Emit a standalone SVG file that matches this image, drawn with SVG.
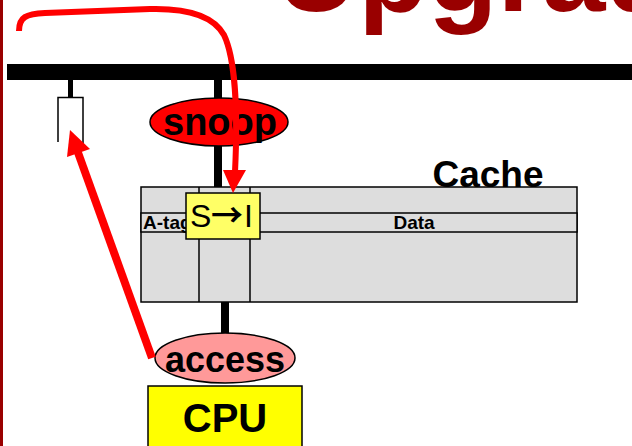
<svg xmlns="http://www.w3.org/2000/svg" width="632" height="446" viewBox="0 0 632 446">
  <style>
    .bold { font-family: "Liberation Sans", Arial, sans-serif; font-weight: bold; }
    .plain { font-family: "Liberation Sans", Arial, sans-serif; }
    .outline { stroke: #000; stroke-width: 1.5; }
    .thin { fill: none; stroke: #000; stroke-width: 1.5; }
    .stub { fill: #000; }
    .red-line { fill: none; stroke: #ff0000; stroke-linecap: butt; }
  </style>

  <rect width="632" height="446" fill="#ffffff"/>

  <!-- slide frame edge -->
  <rect x="0" y="0" width="3" height="446" fill="#990000"/>

  <!-- slide title (runs off the top/right) -->
  <g id="title">
    <text class="bold" x="276" y="11" font-size="114" fill="#990000">Upgrade</text>
  </g>

  <!-- shared bus -->
  <g id="bus">
    <rect x="7" y="64" width="625" height="16" fill="#000"/>
  </g>

  <!-- bus taps (black) -->
  <g id="taps">
    <rect class="stub" x="68" y="80" width="5" height="17"/>
    <rect class="stub" x="214" y="80" width="8" height="108"/>
    <rect class="stub" x="221" y="301" width="8" height="34"/>
  </g>

  <!-- other cache's open slot on the bus -->
  <g id="remote-slot">
    <path class="thin" d="M58,142 V97.5 H83 V148"/>
  </g>

  <!-- cache array -->
  <g id="cache">
    <rect class="outline" x="141" y="187" width="436" height="115" fill="#dddddd"/>
    <rect class="outline" x="141" y="213" width="436" height="19" fill="#dddddd"/>
    <line class="outline" x1="199" y1="187" x2="199" y2="302"/>
    <line class="outline" x1="250" y1="187" x2="250" y2="302"/>
    <text class="bold" x="143" y="228.5" font-size="19">A-tag</text>
    <text class="bold" x="414" y="228.5" font-size="19" text-anchor="middle">Data</text>
    <text class="bold" x="488" y="187" font-size="37" text-anchor="middle">Cache</text>
  </g>

  <!-- state transition on the tag -->
  <g id="state">
    <rect class="outline" x="186" y="193" width="74" height="46" fill="#ffff66"/>
    <text class="plain" y="227" font-size="32"><tspan x="190">S</tspan><tspan x="211" font-family="'Noto Sans CJK JP', 'DejaVu Sans', sans-serif" font-weight="bold" font-size="32">→</tspan><tspan x="244">I</tspan></text>
  </g>

  <!-- bus-side snooper -->
  <g id="snoop">
    <ellipse class="outline" cx="219" cy="122" rx="69" ry="24" fill="#ff0000"/>
    <text class="bold" x="220" y="135" font-size="38" text-anchor="middle">snoop</text>
  </g>

  <!-- processor-side access -->
  <g id="access">
    <ellipse class="outline" cx="225" cy="358" rx="70" ry="25" fill="#ff9999"/>
    <text class="bold" x="225" y="372" font-size="36" text-anchor="middle">access</text>
  </g>

  <!-- processor -->
  <g id="cpu">
    <rect class="outline" x="148" y="386" width="154" height="70" fill="#ffff00"/>
    <text class="bold" x="225" y="432" font-size="40" text-anchor="middle">CPU</text>
  </g>

  <!-- red transaction flows -->
  <g id="connectors">
    <path class="red-line" stroke-width="6" d="M19,31 C19,17 26,14 45,13 L150,9 C190,8 214,17 224,35 C235,58 238,110 235,172"/>
    <polygon fill="#ff0000" points="223,170 246,170 233,193"/>
    <line class="red-line" stroke-width="8" x1="152" y1="358" x2="76" y2="147"/>
    <polygon fill="#ff0000" points="70,130 90,149 67,157"/>
  </g>
</svg>
